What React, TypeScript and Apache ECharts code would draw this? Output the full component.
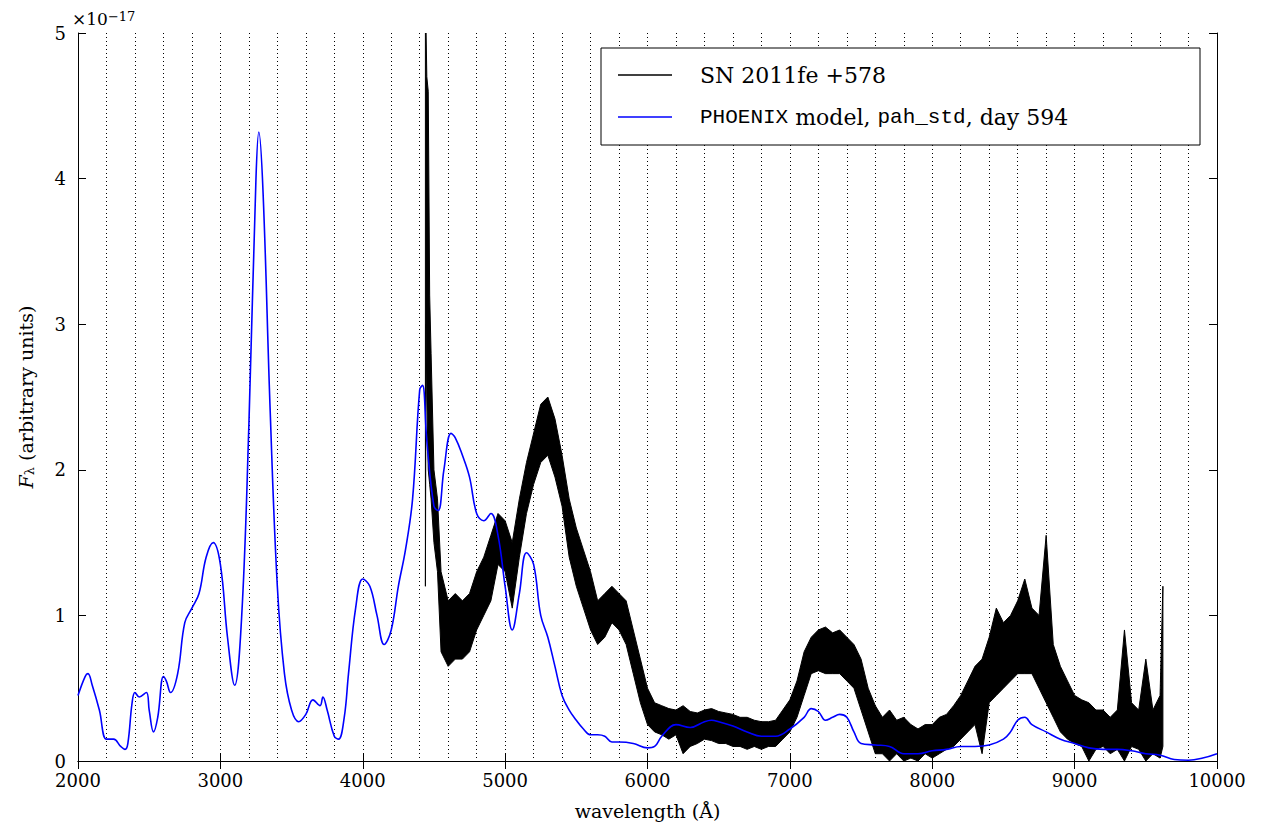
import { useEffect, useRef } from "react";
import * as echarts from "echarts";

// PHOENIX model (units of 1e-17)
const modelX = [2000, 2050, 2070, 2100, 2150, 2200, 2250, 2300, 2330, 2350, 2380, 2400, 2430, 2480, 2500, 2530, 2560, 2600, 2620, 2650, 2700, 2750, 2800, 2850, 2900, 2950, 3000, 3050, 3100, 3150, 3200, 3250, 3270, 3300, 3350, 3400, 3450, 3500, 3550, 3600, 3650, 3700, 3720, 3750, 3800, 3830, 3870, 3900, 3950, 4000, 4050, 4100, 4150, 4200, 4250, 4300, 4350, 4400, 4420, 4450, 4500, 4530, 4570, 4620, 4650, 4700, 4750, 4800, 4850, 4900, 4950, 5000, 5050, 5100, 5150, 5200, 5250, 5300, 5350, 5400, 5450, 5500, 5550, 5600, 5650, 5700, 5750, 5800, 5900, 6000, 6050, 6100, 6200, 6300, 6400, 6450, 6500, 6600, 6700, 6800, 6900, 7000, 7100, 7150, 7200, 7250, 7300, 7350, 7400, 7450, 7500, 7600, 7700, 7800, 7900, 8000, 8100, 8200, 8300, 8400, 8500, 8550, 8600, 8650, 8700, 8800, 8900, 9000, 9100, 9200, 9300, 9400, 9500, 9600, 9700, 9800, 9900, 10000];
const modelY = [0.45, 0.58, 0.6, 0.52, 0.35, 0.15, 0.15, 0.1, 0.08, 0.12, 0.4, 0.47, 0.44, 0.47, 0.35, 0.2, 0.3, 0.58, 0.55, 0.47, 0.6, 0.95, 1.05, 1.15, 1.4, 1.5, 1.35, 0.85, 0.52, 1.0, 2.3, 4.0, 4.32, 3.9, 2.4, 1.2, 0.6, 0.35, 0.27, 0.32, 0.42, 0.38, 0.44, 0.35, 0.17, 0.15, 0.3, 0.6, 1.05, 1.25, 1.2, 1.0, 0.8, 0.9, 1.2, 1.45, 1.8, 2.55, 2.58, 2.2, 1.75, 1.72, 2.0, 2.25, 2.22, 2.1, 1.95, 1.7, 1.65, 1.7, 1.55, 1.2, 0.9, 1.15, 1.43, 1.35, 1.0, 0.85, 0.65, 0.45, 0.35, 0.28, 0.22, 0.18, 0.18, 0.17, 0.13, 0.13, 0.12, 0.09, 0.1, 0.17, 0.25, 0.23, 0.27, 0.28, 0.27, 0.24, 0.2, 0.17, 0.17, 0.22, 0.3, 0.36, 0.34, 0.28, 0.3, 0.32, 0.3, 0.2, 0.12, 0.11, 0.1, 0.05, 0.05, 0.07, 0.08, 0.1, 0.1, 0.11, 0.15, 0.2, 0.28, 0.3, 0.25, 0.2, 0.15, 0.12, 0.09, 0.08, 0.08, 0.07, 0.05, 0.04, 0.01, 0.005, 0.02, 0.05];

// SN 2011fe +578 noise envelope: wavelength, upper and lower edge of the noisy trace
const obsX = [4440, 4445, 4450, 4460, 4470, 4480, 4500, 4525, 4550, 4600, 4650, 4700, 4750, 4800, 4850, 4900, 4950, 5000, 5050, 5100, 5150, 5200, 5250, 5300, 5350, 5400, 5450, 5500, 5550, 5600, 5650, 5700, 5750, 5800, 5850, 5900, 5950, 6000, 6050, 6100, 6150, 6200, 6250, 6300, 6350, 6400, 6450, 6500, 6550, 6600, 6650, 6700, 6750, 6800, 6850, 6900, 6950, 7000, 7050, 7100, 7150, 7200, 7250, 7300, 7350, 7400, 7450, 7500, 7550, 7600, 7650, 7700, 7750, 7800, 7850, 7900, 7950, 8000, 8050, 8100, 8150, 8200, 8250, 8300, 8350, 8400, 8450, 8500, 8550, 8600, 8650, 8700, 8750, 8800, 8850, 8900, 8950, 9000, 9050, 9100, 9150, 9200, 9250, 9300, 9350, 9400, 9450, 9500, 9550, 9600, 9620];
const obsHi = [5.0, 5.0, 4.7, 4.6, 3.2, 2.8, 2.0, 1.8, 1.3, 1.1, 1.15, 1.1, 1.15, 1.3, 1.4, 1.55, 1.7, 1.65, 1.5, 1.8, 2.05, 2.25, 2.45, 2.5, 2.35, 2.1, 1.8, 1.6, 1.45, 1.3, 1.1, 1.15, 1.2, 1.15, 1.1, 0.9, 0.7, 0.5, 0.4, 0.38, 0.36, 0.35, 0.38, 0.34, 0.33, 0.35, 0.36, 0.34, 0.33, 0.32, 0.3, 0.3, 0.28, 0.27, 0.27, 0.28, 0.35, 0.42, 0.55, 0.75, 0.85, 0.9, 0.92, 0.88, 0.9, 0.85, 0.8, 0.7, 0.5, 0.38, 0.3, 0.35, 0.28, 0.3, 0.25, 0.22, 0.25, 0.25, 0.3, 0.32, 0.38, 0.45, 0.55, 0.65, 0.7, 0.85, 1.05, 0.95, 1.0, 1.1, 1.25, 1.05, 1.0, 1.55, 0.8, 0.65, 0.55, 0.45, 0.42, 0.4, 0.35, 0.35, 0.3, 0.35, 0.9, 0.4, 0.35, 0.7, 0.35, 0.45, 1.2];
const obsLo = [1.2, 3.0, 2.5, 2.0, 1.9, 1.8, 1.5, 1.3, 0.75, 0.65, 0.7, 0.7, 0.75, 0.9, 1.0, 1.1, 1.35, 1.3, 1.05, 1.4, 1.7, 1.9, 2.05, 2.1, 1.95, 1.75, 1.4, 1.2, 1.05, 0.9, 0.8, 0.85, 0.95, 0.9, 0.8, 0.6, 0.4, 0.25, 0.2, 0.18, 0.15, 0.18, 0.05, 0.1, 0.12, 0.15, 0.14, 0.12, 0.12, 0.1, 0.1, 0.08, 0.1, 0.08, 0.1, 0.1, 0.15, 0.2, 0.3, 0.45, 0.6, 0.62, 0.6, 0.6, 0.6, 0.55, 0.5, 0.35, 0.2, 0.05, 0.05, 0.0, 0.05, 0.0, 0.02, 0.0, 0.05, 0.02, 0.05, 0.08, 0.1, 0.15, 0.2, 0.25, 0.05, 0.4, 0.45, 0.5, 0.55, 0.6, 0.6, 0.6, 0.5, 0.4, 0.3, 0.2, 0.15, 0.12, 0.1, 0.0, 0.08, 0.1, 0.05, 0.08, 0.0, 0.1, 0.08, 0.0, 0.05, 0.02, 0.1];

const SERIF = "'DejaVu Serif', 'Liberation Serif', serif";
const MONO = "'Liberation Mono', 'DejaVu Sans Mono', monospace";

export default function App() {
  const chartRef = useRef(null);

  useEffect(() => {
    const chart = echarts.init(chartRef.current, null, { renderer: "svg" });

    const n = Math.min(obsX.length, obsHi.length, obsLo.length);
    const obsData = obsX.slice(0, n).map((x, i) => [x, obsHi[i], obsLo[i]]);

    const axisCommon = {
      type: "value",
      axisLine: { show: true, lineStyle: { color: "#000", width: 1 } },
      axisTick: { show: true, inside: true, length: 8, lineStyle: { color: "#000" } },
      minorTick: { show: false },
    };

    const options = {
      animation: false,
      textStyle: { fontFamily: SERIF },
      grid: { left: 63, right: 36, top: 25, bottom: 62 },
      xAxis: [
        {
          ...axisCommon,
          min: 2000,
          max: 10000,
          interval: 1000,
          position: "bottom",
          axisLabel: { color: "#000", fontSize: 18, fontFamily: SERIF, margin: 10, formatter: (v: number) => String(v) },
          name: "wavelength (Å)",
          nameLocation: "middle",
          nameGap: 40,
          nameTextStyle: { color: "#000", fontSize: 19, fontFamily: SERIF },
          splitLine: { show: true, lineStyle: { color: "#000", type: [1, 3], width: 1 } },
          minorTick: { show: true, splitNumber: 5, length: 0 },
          minorSplitLine: { show: true, lineStyle: { color: "#000", type: [1, 3], width: 1 } },
        },
        {
          ...axisCommon,
          min: 2000,
          max: 10000,
          interval: 1000,
          position: "top",
          axisLabel: { show: false },
          splitLine: { show: false },
        },
      ],
      yAxis: [
        {
          ...axisCommon,
          min: 0,
          max: 5,
          interval: 1,
          position: "left",
          axisLabel: { color: "#000", fontSize: 18, fontFamily: SERIF, margin: 12 },
          name: "{i|F}{s|λ} (arbitrary units)",
          nameLocation: "middle",
          nameGap: 42,
          nameTextStyle: {
            color: "#000",
            fontSize: 19,
            fontFamily: SERIF,
            rich: {
              i: { fontStyle: "italic", fontSize: 19, fontFamily: SERIF },
              s: { fontSize: 13, fontFamily: SERIF, verticalAlign: "bottom", padding: [8, 0, 0, 0] },
            },
          },
          splitLine: { show: false },
        },
        {
          ...axisCommon,
          min: 0,
          max: 5,
          interval: 1,
          position: "right",
          axisLabel: { show: false },
          splitLine: { show: false },
        },
      ],
      series: [
        {
          type: "custom",
          name: "SN 2011fe +578",
          data: obsData,
          clip: true,
          z: 3,
          renderItem: (params: any, api: any) => {
            if (params.dataIndex !== 0) return null;
            const upper = obsData.map((d) => api.coord([d[0], d[1]]));
            const lower = obsData.map((d) => api.coord([d[0], d[2]])).reverse();
            return {
              type: "polygon",
              shape: { points: upper.concat(lower) },
              style: { fill: "#000", stroke: "#000", lineWidth: 1 },
            };
          },
        },
        {
          type: "line",
          name: "PHOENIX model, pah_std, day 594",
          data: modelX.map((x, i) => [x, modelY[i]]),
          smooth: 0.4,
          showSymbol: false,
          clip: true,
          lineStyle: { color: "#0000ff", width: 1.6 },
          z: 5,
        },
      ],
      graphic: [
        {
          type: "text",
          left: 64,
          top: 2,
          style: {
            text: "×10{s|−17}",
            font: `17px ${SERIF}`,
            fill: "#000",
            rich: { s: { fontSize: 13, fontFamily: SERIF, verticalAlign: "top" } },
          },
        },
        {
          type: "rect",
          shape: { x: 593, y: 40, width: 599, height: 97 },
          style: { fill: "#fff", stroke: "#000", lineWidth: 1 },
          z: 100,
        },
        { type: "line", shape: { x1: 610, y1: 67, x2: 664, y2: 67 }, style: { stroke: "#000", lineWidth: 1.5 }, z: 101 },
        { type: "line", shape: { x1: 610, y1: 109, x2: 664, y2: 109 }, style: { stroke: "#0000ff", lineWidth: 1.5 }, z: 101 },
        {
          type: "text",
          x: 692,
          y: 67,
          style: { text: "SN 2011fe +578", font: `22px ${SERIF}`, fill: "#000", verticalAlign: "middle" },
          z: 101,
        },
        {
          type: "text",
          x: 692,
          y: 109,
          style: {
            text: "{m|PHOENIX} model, {m|pah_std}, day 594",
            font: `22px ${SERIF}`,
            fill: "#000",
            verticalAlign: "middle",
            rich: { m: { fontFamily: MONO, fontSize: 21 } },
          },
          z: 101,
        },
      ],
    };

    chart.setOption(options);
    return () => {
      chart.dispose();
    };
  }, []);

  return <div ref={chartRef} style={{ width: "1245px", height: "817px" }} />;
}
